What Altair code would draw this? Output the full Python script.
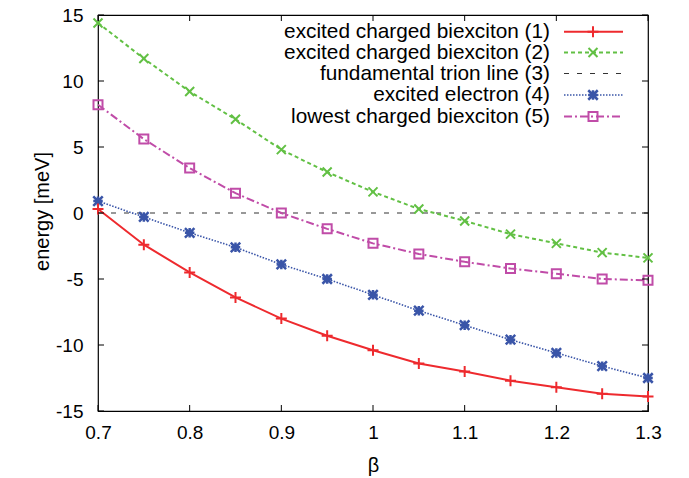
import altair as alt
import pandas as pd

# ---- data ----
beta = [0.70, 0.75, 0.80, 0.85, 0.90, 0.95, 1.00, 1.05, 1.10, 1.15, 1.20, 1.25, 1.30]
s1 = [0.3, -2.4, -4.5, -6.4, -8.0, -9.3, -10.4, -11.4, -12.0, -12.7, -13.2, -13.7, -13.9]
s2 = [14.4, 11.7, 9.2, 7.1, 4.8, 3.1, 1.6, 0.3, -0.6, -1.6, -2.3, -3.0, -3.4]
s4 = [0.9, -0.3, -1.5, -2.6, -3.9, -5.0, -6.2, -7.4, -8.5, -9.6, -10.6, -11.6, -12.5]
s5 = [8.2, 5.6, 3.4, 1.5, 0.0, -1.2, -2.3, -3.1, -3.7, -4.2, -4.6, -5.0, -5.1]
trion_x = [0.7, 1.3]
trion_y = [0.0, 0.0]

labels = [
    "excited charged biexciton (1)",
    "excited charged biexciton (2)",
    "fundamental trion line (3)",
    "excited electron (4)",
    "lowest charged biexciton (5)",
]
x_ticks = [0.7, 0.8, 0.9, 1.0, 1.1, 1.2, 1.3]
y_ticks = [-15, -10, -5, 0, 5, 10, 15]

# ---- style ----
W, H = 550, 396
FONT = "Liberation Sans"
RED, GREEN, BLACK, BLUE, MAG = "#ee2a2e", "#62c044", "#333333", "#3a55a8", "#c04ca8"
PLUS = "M-1,0H1M0,-1V1"
XSH = "M-1,-1L1,1M-1,1L1,-1"
STAR = "M-1,0H1M0,-1V1M-1,-1L1,1M-1,1L1,-1"

xs = alt.Scale(domain=[0.7, 1.3], nice=False, zero=False)
ys = alt.Scale(domain=[-15, 15], nice=False, zero=False)

xax = alt.Axis(values=x_ticks, labelExpr="'' + datum.value", ticks=False, domain=False,
               grid=False, labelFlush=False,
               labelFont=FONT, labelFontSize=19, labelColor="black", labelPadding=12,
               title="β", titleFont=FONT, titleFontSize=20, titleFontWeight="normal",
               titleColor="black", titleX=W / 2, titleY=54, titleBaseline="middle")
yax = alt.Axis(values=y_ticks, labelExpr="'' + datum.value", ticks=False, domain=False,
               grid=False, labelFlush=False,
               labelFont=FONT, labelFontSize=19, labelColor="black", labelPadding=15,
               title="energy [meV]", titleFont=FONT, titleFontSize=20,
               titleFontWeight="normal", titleColor="black", titleAngle=-90,
               titleX=-56, titleY=H / 2 - 2, titleBaseline="middle", titleAlign="center")

X = lambda f: alt.X(f, scale=xs, axis=xax)
Y = lambda f: alt.Y(f, scale=ys, axis=yax)


def series(xv, yv, color, dash, width, shape, size, sw):
    df = pd.DataFrame({"beta": xv, "e": yv})
    enc = dict(x=X("beta:Q"), y=Y("e:Q"))
    line_kw = dict(color=color, strokeWidth=width)
    if dash:
        line_kw["strokeDash"] = dash
    layers = [alt.Chart(df).mark_line(**line_kw).encode(**enc)]
    if shape:
        layers.append(alt.Chart(df).mark_point(shape=shape, size=size, filled=False,
                                               color=color, strokeWidth=sw, opacity=1)
                      .encode(**enc))
    return layers


layers = []
layers += series(trion_x, trion_y, BLACK, [5, 8], 1.2, None, 0, 0)
layers += series(beta, s5, MAG, [8, 3, 2, 3], 2, "square", 81, 2)
layers += series(beta, s4, BLUE, [1.5, 1.5], 1.6, STAR, 90, 2.5)
layers += series(beta, s2, GREEN, [4, 3], 2, XSH, 81, 2)
layers += series(beta, s1, RED, None, 2, PLUS, 121, 2)

# inward ticks (gnuplot style), mirrored on all sides
xt = pd.DataFrame({"t": x_ticks})
yt = pd.DataFrame({"t": y_ticks})
TL = 6
layers.append(alt.Chart(xt).mark_rule(color="black", strokeWidth=1).encode(
    x=X("t:Q"), y=alt.value(H), y2=alt.value(H - TL)))
layers.append(alt.Chart(xt).mark_rule(color="black", strokeWidth=1).encode(
    x=X("t:Q"), y=alt.value(0), y2=alt.value(TL)))
layers.append(alt.Chart(yt).mark_rule(color="black", strokeWidth=1).encode(
    y=Y("t:Q"), x=alt.value(0), x2=alt.value(TL)))
layers.append(alt.Chart(yt).mark_rule(color="black", strokeWidth=1).encode(
    y=Y("t:Q"), x=alt.value(W), x2=alt.value(W - TL)))

# legend (labels right-aligned, samples to the right)
rows = [16.7, 37.5, 58.5, 80, 101.5]
styles = [
    (RED, None, 2, PLUS, 121, 2),
    (GREEN, [4, 3], 2, XSH, 81, 2),
    (BLACK, [5, 8], 1.2, None, 0, 0),
    (BLUE, [1.5, 1.5], 1.6, STAR, 90, 2.5),
    (MAG, [8, 3, 2, 3], 2, "square", 81, 2),
]
for lab, ry, (c, d, w, shp, sz, sw) in zip(labels, rows, styles):
    ldf = pd.DataFrame({"label": [lab]})
    layers.append(alt.Chart(ldf).mark_text(align="right", baseline="middle", font=FONT,
                                           fontSize=20.8, color="black").encode(
        text="label:N", x=alt.value(452), y=alt.value(ry)))
    rk = dict(color=c, strokeWidth=w)
    if d:
        rk["strokeDash"] = d
    layers.append(alt.Chart(ldf).mark_rule(**rk).encode(
        x=alt.value(466), x2=alt.value(525), y=alt.value(ry)))
    if shp:
        layers.append(alt.Chart(ldf).mark_point(shape=shp, size=sz, filled=False, color=c,
                                                strokeWidth=sw, opacity=1).encode(
            x=alt.value(495), y=alt.value(ry)))

chart = alt.layer(*layers).properties(
    width=W, height=H,
    autosize=alt.AutoSizeParams(type="none"),
    padding={"left": 98, "top": 15, "right": 41, "bottom": 67},
).configure(background="white").configure_view(stroke="black", strokeWidth=1.2)

chart.save("out.html", embed_options={"renderer": "svg", "actions": False})
